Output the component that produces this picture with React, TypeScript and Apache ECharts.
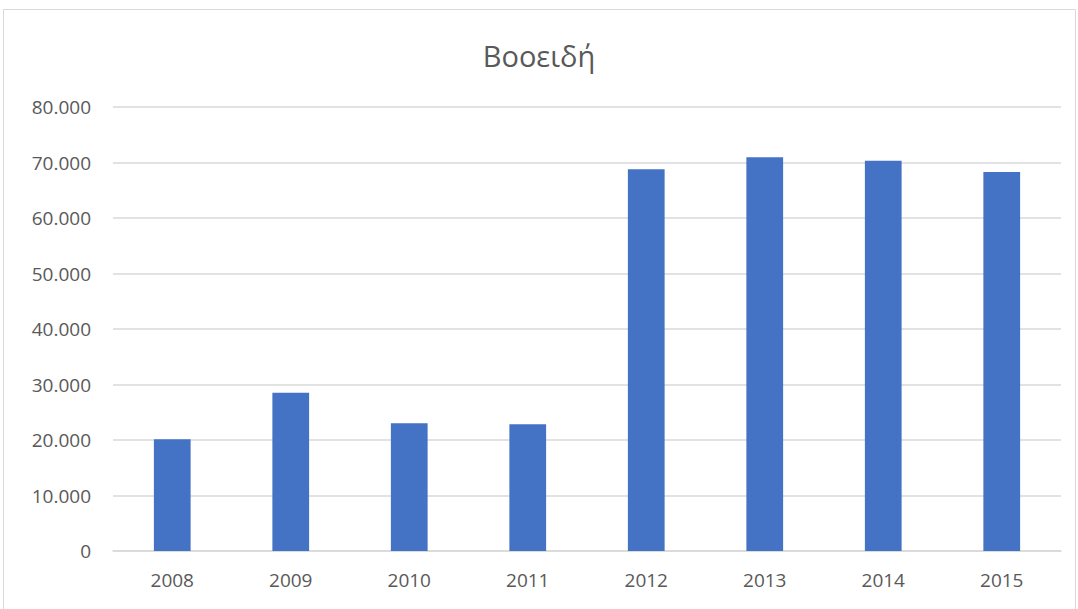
import React, { useEffect, useRef } from "react";
import * as echarts from "echarts";

const categories = ["2008", "2009", "2010", "2011", "2012", "2013", "2014", "2015"];
const values = [20150, 28500, 23000, 22850, 68800, 70950, 70300, 68300];
const chartTitle = "Βοοειδή";

const fmt = (v: number) => String(Math.round(v)).replace(/\B(?=(\d{3})+(?!\d))/g, ".");

export default function App() {
  const ref = useRef<HTMLDivElement>(null);
  useEffect(() => {
    const chart = echarts.init(ref.current!, null, { renderer: "svg" });
    chart.setOption({
      animation: false,
      backgroundColor: "#ffffff",
      title: {
        text: chartTitle,
        left: "center",
        top: 36,
        textStyle: { fontFamily: "Open Sans", fontSize: 29, fontWeight: "normal", color: "#595959" },
      },
      graphic: [
        {
          type: "rect",
          shape: { x: 3.5, y: 9.5, width: 1072, height: 620 },
          style: { fill: "none", stroke: "#d9d9d9", lineWidth: 1 },
          silent: true,
        },
      ],
      grid: { left: 113, right: 17, top: 107, bottom: 58 },
      xAxis: {
        type: "category",
        data: categories,
        axisLine: { show: true, lineStyle: { color: "#d9d9d9", width: 1.5 } },
        axisTick: { show: false },
        axisLabel: { color: "#595959", fontFamily: "Open Sans", fontSize: 19, margin: 19 },
      },
      yAxis: {
        type: "value",
        min: 0,
        max: 80000,
        interval: 10000,
        axisLine: { show: false },
        axisTick: { show: false },
        splitLine: { lineStyle: { color: "#d9d9d9", width: 1.5 } },
        axisLabel: { color: "#595959", fontFamily: "Open Sans", fontSize: 19, margin: 22, formatter: fmt },
      },
      series: [
        {
          type: "bar",
          data: values,
          barWidth: "31%",
          itemStyle: { color: "#4472C4" },
        },
      ],
    });
    return () => chart.dispose();
  }, []);
  return <div ref={ref} style={{ position: "fixed", left: 0, top: 0, width: 1078, height: 609 }} />;
}
